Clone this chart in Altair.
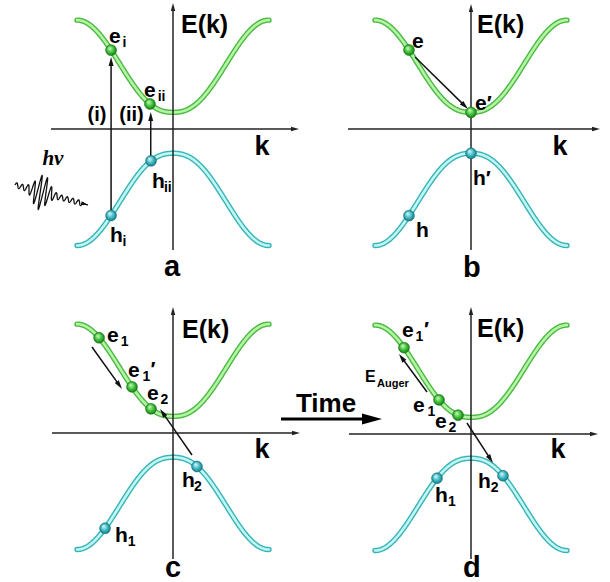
import math
import numpy as np
import pandas as pd
import altair as alt

# ---------------- layout constants (pixels) ----------------
KX, EY = 96.0, 45.0                      # px per k-unit, px per E-unit
LAYOUT = {"a": (173, 129, 305, 290), "b": (166, 129, 305, 290),
          "c": (173, 143, 305, 292), "d": (166, 144, 305, 292)}
FONT = "Liberation Sans"

# ---------------- band model (schematic dispersion) ----------------
EC_MIN, EC_MAX = 0.37, 2.42
EV_MAX, EV_MIN = -0.54, -2.59
BAND_SHAPE = 1.2

def band_E(kind, k):
    u = ((1 - np.cos(np.pi * np.asarray(k, dtype=float))) / 2) ** BAND_SHAPE
    return EC_MIN + (EC_MAX - EC_MIN) * u if kind == "c" else EV_MAX - (EV_MAX - EV_MIN) * u

# ---------------- carriers (spheres) ----------------
pt_panel = ["a", "a", "a", "a", "b", "b", "b", "b", "c", "c", "c", "c", "c", "d", "d", "d", "d", "d"]
pt_band = ["c", "c", "v", "v", "c", "c", "v", "v", "c", "c", "c", "v", "v", "c", "c", "c", "v", "v"]
pt_k = [-0.645, -0.24, -0.645, -0.229,
        -0.646, 0.0, 0.0, -0.646,
        -0.77, -0.427, -0.229, 0.25, -0.708,
        -0.698, -0.333, -0.135, -0.354, 0.333]

# ---------------- text labels, per panel ----------------
a_text = ["e", "i", "e", "ii", "h", "i", "h", "ii", "(i)", "(ii)", "E(k)", "k", "a"]
a_k = [-0.667, -0.525, -0.302, -0.16, -0.656, -0.525, -0.219, -0.095, -0.792, -0.432, 0.083, 0.927, -0.01]
a_E = [1.911, 1.822, 0.711, 0.622, -2.511, -2.6, -1.311, -1.4, 0.178, 0.178, 2.133, -0.578, -3.267]
a_size = [21, 14, 21, 14, 21, 14, 21, 14, 20, 20, 25, 27, 29]
a_align = ["left"] * 8 + ["center", "center", "left", "center", "center"]

b_text = ["e", "e\u2032", "h\u2032", "h", "E(k)", "k", "b"]
b_k = [-0.615, 0.042, 0.021, -0.573, 0.063, 0.927, 0.01]
b_E = [1.8, 0.422, -1.244, -2.4, 2.133, -0.578, -3.289]
b_size = [21, 21, 21, 21, 25, 27, 29]
b_align = ["left"] * 5 + ["center", "center"]

c_text = ["e", "1", "e", "1", "\u2032", "e", "2", "h", "2", "h", "1", "E(k)", "k", "c"]
c_k = [-0.6875, -0.545, -0.469, -0.318, -0.235, -0.271, -0.13, 0.094, 0.218, -0.604, -0.472, 0.094, 0.927, 0.0]
c_E = [2.022, 1.933, 1.244, 1.156, 1.26, 0.733, 0.644, -1.2, -1.289, -2.422, -2.511, 2.111, -0.556, -3.2]
c_size = [21, 14, 21, 14, 21, 21, 14, 21, 14, 21, 14, 25, 27, 29]
c_align = ["left"] * 12 + ["center", "center"]

d_text = ["e", "1", "\u2032", "e", "1", "e", "2", "E", "Auger", "h", "1", "h", "2", "E(k)", "k", "d", "Time"]
d_k = [-0.719, -0.578, -0.49, -0.604, -0.452, -0.375, -0.235, -1.104, -0.979, -0.375, -0.24, 0.073, 0.205,
       0.063, 0.906, 0.01, -1.51]
d_E = [2.156, 2.067, 2.17, 0.489, 0.4, 0.133, 0.044, 1.156, 1.044, -1.511, -1.6, -1.2, -1.289,
       2.156, -0.533, -3.178, 0.489]
d_size = [21, 14, 21, 21, 14, 21, 14, 16, 11, 21, 14, 21, 14, 25, 27, 29, 26]
d_align = ["left"] * 14 + ["center", "center", "center"]

# photon label (italic serif)
hv_text, hv_k, hv_E, hv_size = "h\u03bd", -1.36, -0.80, 21

# ---------------- arrows (start k,E -> tip k,E) ----------------
ar_panel = ["a", "a", "a", "a", "b", "b", "b", "c", "c", "c", "c", "d", "d", "d", "d", "d"]
ar_kind = ["axis", "axis", "thin", "thin", "axis", "axis", "thin", "axis", "axis", "thin", "thin",
           "axis", "axis", "thin", "thin", "thick"]
ar_k0 = [-1.271, 0.0, -0.645, -0.232, -1.281, 0.0, -0.583, -1.26, 0.0, -0.844, 0.198,
         -1.271, 0.0, -0.458, -0.042, -1.979]
ar_E0 = [0.0, -2.689, -1.96, -0.756, 0.0, -2.689, 1.6, 0.0, -2.8, 1.911, -0.489,
         0.0, -2.778, 0.933, 0.244, 0.333]
ar_k1 = [1.3125, 0.0, -0.645, -0.232, 1.344, 0.0, -0.031, 1.323, 0.0, -0.531, -0.135,
         1.323, 0.0, -0.75, 0.229, -0.927]
ar_E1 = [0.0, 2.8, 1.60, 0.378, 0.0, 2.778, 0.444, 0.0, 2.8, 0.978, 0.533,
         0.0, 2.822, 1.778, -0.644, 0.333]

STYLE = {"axis": (1.5, 8, "#222222"), "thin": (1.5, 9, "#111111"), "thick": (3.0, 20, "#000000")}
HEAD = "M0,0L0.55,2L-0.55,2Z"

# photon wave packet (panel a): start/end and shape in px relative to the panel
WAVE_START, WAVE_END = (15, 185), (88, 205)
WAVE_CYCLES, WAVE_PEAK, WAVE_WIDTH, WAVE_AMP, WAVE_BASE = 13, 0.36, 0.12, 15.0, 2.5

# band colours: (outer rim, light core)
BAND_COL = {"c": ("#4cb944", "#b4f4a4"), "v": ("#3ab3b5", "#c0f6f4")}

# ---------------- build tables ----------------
kk = np.linspace(-1, 1, 301)
band_tables = {b: pd.DataFrame({"k": kk, "E": band_E(b, kk)}) for b in ["c", "v"]}

pts = pd.DataFrame({"panel": pt_panel, "band": pt_band, "k": pt_k})
pts["E"] = [float(band_E(b, k)) for b, k in zip(pt_band, pt_k)]

lab_frames = []
for p, tx, k_, e_, s_, al in [("a", a_text, a_k, a_E, a_size, a_align),
                               ("b", b_text, b_k, b_E, b_size, b_align),
                               ("c", c_text, c_k, c_E, c_size, c_align),
                               ("d", d_text, d_k, d_E, d_size, d_align)]:
    lab_frames.append(pd.DataFrame({"panel": p, "text": tx, "k": k_, "E": e_, "size": s_, "align": al}))
labels = pd.concat(lab_frames, ignore_index=True)

rows = []
for p, kind, k0, e0, k1, e1 in zip(ar_panel, ar_kind, ar_k0, ar_E0, ar_k1, ar_E1):
    w, hl, col = STYLE[kind]
    dx, dy = (k1 - k0) * KX, (e1 - e0) * EY
    L = math.hypot(dx, dy)
    ang = math.degrees(math.atan2(dx, dy)) % 360
    shrink = hl * 0.7 / L
    rows.append({"panel": p, "kind": kind, "k0": k0, "E0": e0,
                 "k1s": k1 - (k1 - k0) * shrink, "E1s": e1 - (e1 - e0) * shrink,
                 "k1": k1, "E1": e1, "angle": ang, "w": w, "hsize": hl * hl, "col": col})
arrows = pd.DataFrame(rows)

cxa, cya = LAYOUT["a"][0], LAYOUT["a"][1]
t = np.linspace(0, 1, 600)
sx, sy = WAVE_START
ex, ey = WAVE_END
amp = WAVE_BASE + WAVE_AMP * np.exp(-((t - WAVE_PEAK) / WAVE_WIDTH) ** 2)
nx, ny = 0.2, -1.0
nn = math.hypot(nx, ny)
osc = amp * np.sin(2 * np.pi * WAVE_CYCLES * t) * (t < 0.93)
wx = sx + t * (ex - sx) + osc * nx / nn
wy = sy + t * (ey - sy) + osc * ny / nn
wave = pd.DataFrame({"k": (wx - cxa) / KX, "E": (cya - wy) / EY, "i": np.arange(len(t))})
wdx, wdy = (ex - sx), -(ey - sy)
wave_head = pd.DataFrame({"k": [(ex - cxa) / KX], "E": [(cya - ey) / EY],
                          "angle": [math.degrees(math.atan2(wdx, wdy)) % 360]})


def sphere(c0, c1, c2):
    return alt.RadialGradient(gradient="radial", x1=0.36, y1=0.3, r1=0.0, x2=0.5, y2=0.5, r2=0.56,
                              stops=[alt.GradientStop(offset=0, color=c0),
                                     alt.GradientStop(offset=0.55, color=c1),
                                     alt.GradientStop(offset=1, color=c2)])


def panel_chart(p):
    cx, cy, W, H = LAYOUT[p]
    xs = alt.Scale(domain=[-cx / KX, (W - cx) / KX], nice=False, zero=False)
    ys = alt.Scale(domain=[-(H - cy) / EY, cy / EY], nice=False, zero=False)

    def X(f):
        return alt.X(f, type="quantitative", scale=xs, axis=None)

    def Y(f):
        return alt.Y(f, type="quantitative", scale=ys, axis=None)

    layers = []
    for b in ["c", "v"]:
        rim, core = BAND_COL[b]
        bc = alt.Chart(band_tables[b])
        layers.append(bc.mark_line(strokeWidth=5.4, strokeCap="round", color=rim).encode(x=X("k"), y=Y("E")))
        layers.append(bc.mark_line(strokeWidth=2.6, strokeCap="round", color=core).encode(x=X("k"), y=Y("E")))

    a = arrows[arrows["panel"] == p]
    lines = alt.Chart(a).mark_rule(strokeCap="butt").encode(
        x=X("k0"), y=Y("E0"), x2="k1s", y2="E1s",
        strokeWidth=alt.StrokeWidth("w:Q", scale=None),
        color=alt.Color("col:N", scale=None))
    heads = alt.Chart(a).mark_point(shape=HEAD, filled=True, opacity=1, strokeWidth=0).encode(
        x=X("k1"), y=Y("E1"), angle=alt.Angle("angle:Q", scale=None),
        size=alt.Size("hsize:Q", scale=None), color=alt.Color("col:N", scale=None))
    layers += [lines, heads]

    pp = pts[pts["panel"] == p]
    green = alt.Chart(pp[pp["band"] == "c"]).mark_circle(
        size=118, opacity=1, fill=sphere("#d6ffc8", "#3fc23a", "#0f6e10"),
        stroke="#1f6e1a", strokeWidth=0.6).encode(x=X("k"), y=Y("E"))
    cyan = alt.Chart(pp[pp["band"] == "v"]).mark_circle(
        size=118, opacity=1, fill=sphere("#e2ffff", "#3fb9c2", "#0e6d78"),
        stroke="#17707a", strokeWidth=0.6).encode(x=X("k"), y=Y("E"))

    lab = labels[labels["panel"] == p]
    tl = alt.Chart(lab[lab["align"] == "left"]).mark_text(
        align="left", baseline="alphabetic", font=FONT, fontWeight="bold", color="#000000").encode(
        x=X("k"), y=Y("E"), text="text:N", size=alt.Size("size:Q", scale=None))
    tc = alt.Chart(lab[lab["align"] == "center"]).mark_text(
        align="center", baseline="alphabetic", font=FONT, fontWeight="bold", color="#000000").encode(
        x=X("k"), y=Y("E"), text="text:N", size=alt.Size("size:Q", scale=None))

    if p == "a":
        wl = alt.Chart(wave).mark_line(strokeWidth=1.3, color="#111111").encode(
            x=X("k"), y=Y("E"), order="i:Q")
        wh = alt.Chart(wave_head).mark_point(shape=HEAD, filled=True, opacity=1, size=49,
                                             color="#111111", strokeWidth=0).encode(
            x=X("k"), y=Y("E"), angle=alt.Angle("angle:Q", scale=None))
        hv = alt.Chart(pd.DataFrame({"k": [hv_k], "E": [hv_E], "text": [hv_text]})).mark_text(
            align="left", baseline="alphabetic", font="Liberation Serif", fontStyle="italic",
            fontWeight="bold", fontSize=hv_size, color="#000000").encode(x=X("k"), y=Y("E"), text="text:N")
        layers += [wl, wh, hv]
    layers += [green, cyan, tl, tc]
    return alt.layer(*layers).properties(width=W, height=H)


chart = alt.concat(*[panel_chart(p) for p in ["a", "b", "c", "d"]], columns=2, spacing=0,
                   bounds="flush").properties(padding=0).configure_view(stroke=None)

chart.save("out.html", embed_options={"renderer": "svg", "actions": False})
